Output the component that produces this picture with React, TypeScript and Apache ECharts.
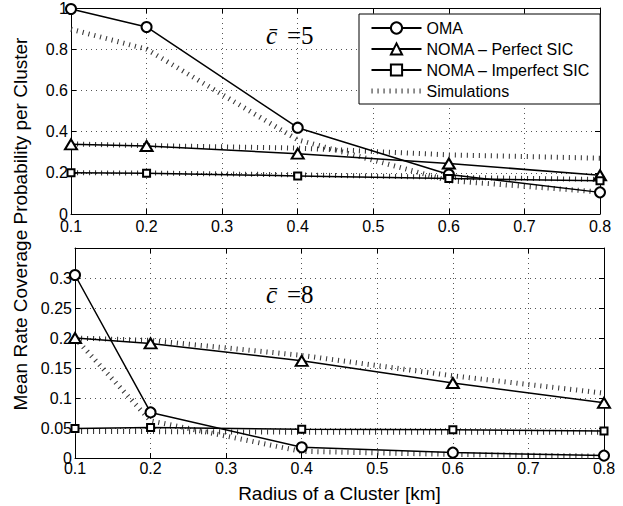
import React, { useEffect, useRef } from "react";
import * as echarts from "echarts";

const radius = [0.1, 0.2, 0.4, 0.6, 0.8];

// c̄ = 5 (top panel)
const omaTop = [0.995, 0.908, 0.419, 0.192, 0.105];
const perfectTop = [0.338, 0.33, 0.293, 0.245, 0.188];
const imperfectTop = [0.2, 0.198, 0.185, 0.172, 0.161];
const simOmaTop = [0.897, 0.8, 0.36, 0.162, 0.107];
const simPerfectTop = [0.34, 0.332, 0.32, 0.287, 0.271];
const simImperfectTop = [0.2, 0.199, 0.19, 0.178, 0.168];

// c̄ = 8 (bottom panel)
const omaBot = [0.305, 0.076, 0.018, 0.009, 0.004];
const perfectBot = [0.2, 0.191, 0.162, 0.125, 0.092];
const imperfectBot = [0.049, 0.051, 0.048, 0.047, 0.045];
const simOmaBot = [0.2, 0.062, 0.011, 0.006, 0.003];
const simPerfectBot = [0.2, 0.196, 0.171, 0.137, 0.108];
const simImperfectBot = [0.044, 0.044, 0.043, 0.043, 0.043];

const topYTicks = { min: 0, max: 1, interval: 0.2 };
const botYTicks = { min: 0, max: 0.35, interval: 0.05 };
const xTicks = { min: 0.1, max: 0.8, interval: 0.1 };

const legendNames = ["OMA", "NOMA – Perfect SIC", "NOMA – Imperfect SIC", "Simulations"];
const yAxisTitle = "Mean Rate Coverage Probability per Cluster";
const xAxisTitle = "Radius of a Cluster [km]";

const pairs = (ys: number[]) => radius.map((x, i) => [x, ys[i]]);
const fmt = (v: number) => String(Number(v.toFixed(2)));

const FONT = "Liberation Sans, Arial, Helvetica, sans-serif";
const SIM_COLOR = "#3a3a3a";
const SIM_DASH = [1.1, 4.9];

export default function App() {
  const ref = useRef<HTMLDivElement>(null);
  useEffect(() => {
    document.body.style.margin = "0";
    const chart = echarts.init(ref.current!, undefined, { renderer: "svg" });

    const mainX = (gridIndex: number, withLabel: boolean) => ({
      type: "value",
      gridIndex,
      position: "bottom",
      ...xTicks,
      axisLine: { show: true, onZero: false, lineStyle: { color: "#000", width: 1 } },
      axisTick: { show: true, inside: true, length: 5, lineStyle: { color: "#000" } },
      axisLabel: {
        show: withLabel,
        formatter: (v: number) => fmt(v),
        color: "#000",
        fontSize: 16,
        fontFamily: FONT,
        margin: gridIndex === 0 ? 4 : 2,
      },
      splitLine: { show: true, lineStyle: { color: "#555", width: 1, type: [1, 4] } },
    });
    const topX = (gridIndex: number) => ({
      type: "value",
      gridIndex,
      position: "top",
      ...xTicks,
      axisLine: { show: true, onZero: false, lineStyle: { color: "#000", width: 1 } },
      axisTick: { show: true, inside: true, length: 5, lineStyle: { color: "#000" } },
      axisLabel: { show: false },
      splitLine: { show: false },
    });
    const leftY = (gridIndex: number, ticks: any, hideMax: boolean) => ({
      type: "value",
      gridIndex,
      position: "left",
      ...ticks,
      axisLine: { show: true, onZero: false, lineStyle: { color: "#000", width: 1 } },
      axisTick: { show: true, inside: true, length: 5, lineStyle: { color: "#000" } },
      axisLabel: {
        color: "#000",
        fontSize: 16,
        fontFamily: FONT,
        margin: 3,
        formatter: (v: number) => (hideMax && Math.abs(v - ticks.max) < 1e-9 ? "" : fmt(v)),
      },
      splitLine: { show: true, lineStyle: { color: "#555", width: 1, type: [1, 4] } },
    });
    const rightY = (gridIndex: number, ticks: any) => ({
      type: "value",
      gridIndex,
      position: "right",
      ...ticks,
      axisLine: { show: true, onZero: false, lineStyle: { color: "#000", width: 1 } },
      axisTick: { show: true, inside: true, length: 5, lineStyle: { color: "#000" } },
      axisLabel: { show: false },
      splitLine: { show: false },
    });

    const analysis = (name: string, ys: number[], axis: number, symbol: string, size: any) => ({
      type: "line",
      name,
      xAxisIndex: axis,
      yAxisIndex: axis,
      data: pairs(ys),
      symbol,
      symbolSize: size,
      showAllSymbol: true,
      z: 5,
      lineStyle: { color: "#000", width: 1.5 },
      itemStyle: { color: "#000", borderColor: "#000", borderWidth: 1.5 },
      emphasis: { disabled: true },
    });
    const sim = (ys: number[], axis: number) => ({
      type: "line",
      name: "Simulations",
      xAxisIndex: axis,
      yAxisIndex: axis,
      data: pairs(ys),
      symbol: "none",
      z: 3,
      lineStyle: { color: SIM_COLOR, width: 5, type: SIM_DASH, cap: "butt" },
      itemStyle: { color: SIM_COLOR },
      emphasis: { disabled: true },
    });

    const cbar = (value: string, y: number) => ({
      type: "text",
      x: 266,
      y,
      style: {
        text: `{c|c\u0304 }{r|=${value}}`,
        verticalAlign: "middle",
        rich: {
          c: { fontFamily: "Liberation Serif", fontStyle: "italic", fontSize: 25, width: 21, fill: "#000" },
          r: { fontFamily: "Liberation Serif", fontSize: 25, fill: "#000" },
        },
      },
    });

    const option: any = {
      animation: false,
      backgroundColor: "#fff",
      grid: [
        { left: 71, top: 7, width: 529, height: 207 },
        { left: 75, top: 248, width: 529, height: 210 },
      ],
      xAxis: [
        mainX(0, true),
        topX(0),
        {
          ...mainX(1, true),
          name: xAxisTitle,
          nameLocation: "middle",
          nameGap: 26,
          nameTextStyle: { color: "#000", fontSize: 19, fontFamily: FONT },
        },
        topX(1),
      ],
      yAxis: [leftY(0, topYTicks, false), rightY(0, topYTicks), leftY(1, botYTicks, true), rightY(1, botYTicks)],
      legend: {
        data: [
          legendNames[0],
          legendNames[1],
          legendNames[2],
          {
            name: legendNames[3],
            itemStyle: { opacity: 0 },
            lineStyle: { color: SIM_COLOR, width: 5, type: SIM_DASH, cap: "butt" },
          },
        ],
        orient: "vertical",
        left: 359,
        top: 14,
        padding: [6, 10, 5, 10],
        itemGap: 5,
        itemWidth: 50,
        itemHeight: 14,
        backgroundColor: "#fff",
        borderColor: "#000",
        borderWidth: 1,
        borderRadius: 0,
        selectedMode: false,
        textStyle: { color: "#000", fontSize: 16, fontFamily: FONT },
      },
      series: [
        sim(simOmaTop, 0),
        sim(simPerfectTop, 0),
        sim(simImperfectTop, 0),
        analysis(legendNames[0], omaTop, 0, "emptyCircle", 10),
        analysis(legendNames[1], perfectTop, 0, "emptyTriangle", [12, 10]),
        analysis(legendNames[2], imperfectTop, 0, "emptyRect", 7),
        sim(simOmaBot, 2),
        sim(simPerfectBot, 2),
        sim(simImperfectBot, 2),
        analysis(legendNames[0], omaBot, 2, "emptyCircle", 10),
        analysis(legendNames[1], perfectBot, 2, "emptyTriangle", [12, 10]),
        analysis(legendNames[2], imperfectBot, 2, "emptyRect", 7),
      ],
      graphic: [
        {
          type: "text",
          x: 20,
          y: 224,
          rotation: Math.PI / 2,
          style: {
            text: yAxisTitle,
            fill: "#000",
            font: `19px ${FONT}`,
            align: "center",
            verticalAlign: "middle",
          },
        },
        cbar("5", 35),
        cbar("8", 294),
      ],
    };
    chart.setOption(option);
    return () => chart.dispose();
  }, []);
  return <div ref={ref} style={{ width: 623, height: 506 }} />;
}
